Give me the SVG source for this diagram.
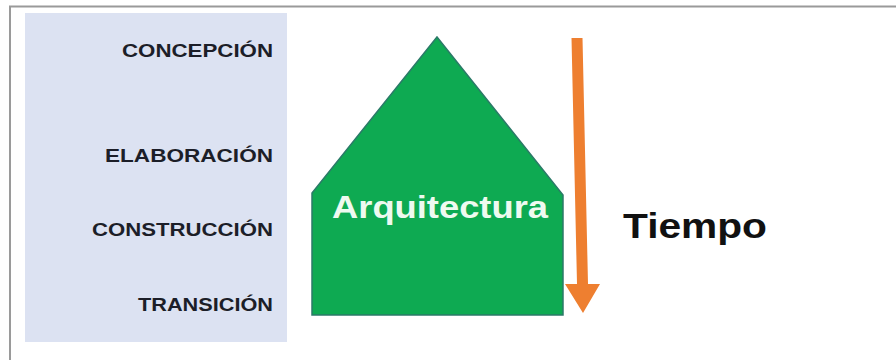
<svg xmlns="http://www.w3.org/2000/svg" width="896" height="360" viewBox="0 0 896 360">
<style>
.phase{font-family:"Liberation Sans",Arial,sans-serif;font-weight:bold;font-size:19px;fill:#1c1e28;text-anchor:end}
.big{font-family:"Liberation Sans",Arial,sans-serif;font-weight:bold}
</style>
<rect width="896" height="360" fill="#ffffff"/>
<g id="frame">
<path d="M10 360 V6.5 H896" fill="none" stroke="#9a9a9a" stroke-width="2"/>
</g>
<g id="phases">
<rect x="25" y="13" width="262" height="329" fill="#dce2f2"/>
<text class="phase" x="273" y="57" textLength="151" lengthAdjust="spacingAndGlyphs">CONCEPCIÓN</text>
<text class="phase" x="273" y="162" textLength="168" lengthAdjust="spacingAndGlyphs">ELABORACIÓN</text>
<text class="phase" x="273" y="236" textLength="181" lengthAdjust="spacingAndGlyphs">CONSTRUCCIÓN</text>
<text class="phase" x="273" y="311" textLength="135" lengthAdjust="spacingAndGlyphs">TRANSICIÓN</text>
</g>
<g id="arquitectura">
<polygon points="437,37 563,195 563,315 312,315 312,193" fill="#0eaa52" stroke="#2b7a68" stroke-width="1.5"/>
<text class="big" x="332" y="218" font-size="32" fill="#eefaf0" textLength="216" lengthAdjust="spacingAndGlyphs">Arquitectura</text>
</g>
<g id="connectors">
<polygon points="571.5,38 582.5,38 588,284 600,284 583,313 565,284 577,284" fill="#ee7f30"/>
</g>
<g id="tiempo">
<text class="big" x="623" y="238" font-size="35" fill="#111111" textLength="144" lengthAdjust="spacingAndGlyphs">Tiempo</text>
</g>
</svg>
